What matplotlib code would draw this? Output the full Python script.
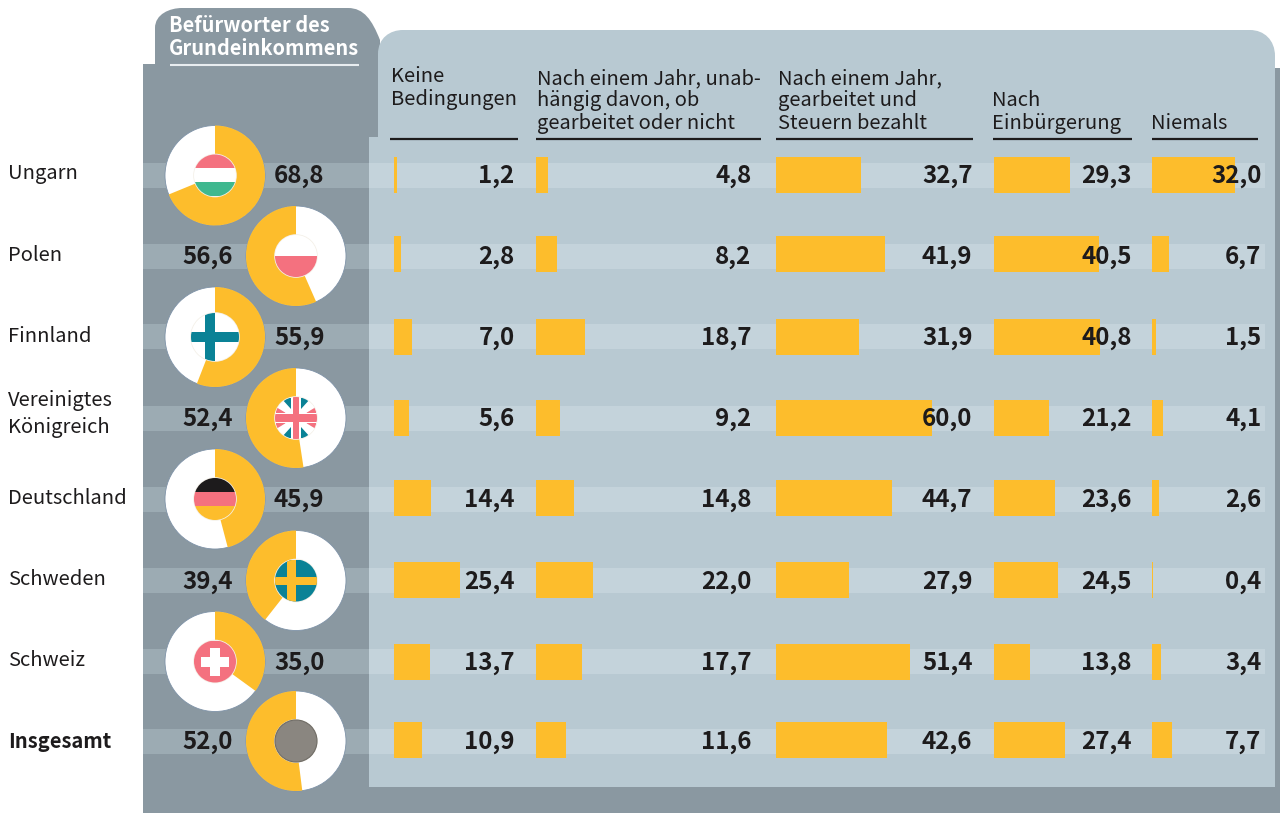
import matplotlib
matplotlib.use('Agg')
import matplotlib.pyplot as plt
from matplotlib.patches import Wedge, Circle, Rectangle, PathPatch, Polygon
from matplotlib.path import Path

countries = ['Ungarn', 'Polen', 'Finnland', 'Vereinigtes\nKönigreich', 'Deutschland', 'Schweden', 'Schweiz', 'Insgesamt']
befuerworter = [68.8, 56.6, 55.9, 52.4, 45.9, 39.4, 35.0, 52.0]
keine = [1.2, 2.8, 7.0, 5.6, 14.4, 25.4, 13.7, 10.9]
nach_jahr = [4.8, 8.2, 18.7, 9.2, 14.8, 22.0, 17.7, 11.6]
steuern = [32.7, 41.9, 31.9, 60.0, 44.7, 27.9, 51.4, 42.6]
einbuergerung = [29.3, 40.5, 40.8, 21.2, 23.6, 24.5, 13.8, 27.4]
niemals = [32.0, 6.7, 1.5, 4.1, 2.6, 0.4, 3.4, 7.7]
columns = [keine, nach_jahr, steuern, einbuergerung, niemals]
headers = ['Keine\nBedingungen', 'Nach einem Jahr, unab-\nhängig davon, ob\ngearbeitet oder nicht',
           'Nach einem Jahr,\ngearbeitet und\nSteuern bezahlt', 'Nach\nEinbürgerung', 'Niemals']
title = 'Befürworter des\nGrundeinkommens'

DARK = '#8a98a1'; LIGHT = '#b8c9d2'; BAND_D = '#9cabb3'; BAND_L = '#c4d3db'
YEL = '#fdbd2c'; PINK = '#f4717f'; GREEN = '#3fb88f'; TEAL = '#0a8296'; INK = '#1d1b1c'; GREY = '#8a8680'

plt.rcParams['font.family'] = ['Noto Sans CJK SC', 'DejaVu Sans']
fig = plt.figure(figsize=(12.8, 8.13), dpi=100)
ax = fig.add_axes([0, 0, 1, 1])
ax.set_xlim(0, 1280); ax.set_ylim(813, 0); ax.axis('off')

# panels
ax.add_patch(Rectangle((143, 64), 237, 749, fc=DARK, ec='none', zorder=1))
ax.add_patch(Rectangle((380, 68), 900, 745, fc=DARK, ec='none', zorder=1))
tab = Path([(155, 66), (155, 28), (155, 14), (170, 8), (182, 8), (348, 8), (364, 8), (372, 20), (380, 40), (380, 66), (155, 66)],
           [Path.MOVETO, Path.LINETO, Path.CURVE4, Path.CURVE4, Path.CURVE4, Path.LINETO, Path.CURVE4, Path.CURVE4, Path.CURVE4, Path.LINETO, Path.CLOSEPOLY])
ax.add_patch(PathPatch(tab, fc=DARK, ec='none', zorder=1.2))
top = Path([(378, 140), (378, 54), (378, 38), (390, 30), (403, 30), (1250, 30), (1264, 30), (1275, 40), (1275, 56), (1275, 140), (378, 140)],
           [Path.MOVETO, Path.LINETO, Path.CURVE4, Path.CURVE4, Path.CURVE4, Path.LINETO, Path.CURVE4, Path.CURVE4, Path.CURVE4, Path.LINETO, Path.CLOSEPOLY])
ax.add_patch(PathPatch(top, fc=LIGHT, ec='none', zorder=1.3))
ax.add_patch(Rectangle((369, 137), 906, 650, fc=LIGHT, ec='none', zorder=1.3))

# layout
row_y = [175.5, 256, 337, 418, 499, 580.5, 661.5, 741]
bar_y = [175, 254, 337.5, 418, 498, 580, 662, 740]
lab_y = [174, 255, 336, None, 498, 579, 660, 741]
col_x0 = [394, 536, 776, 994, 1152]
col_val_x = [514.5, 751.5, 972.5, 1131.5, 1261.5]
rule_x = [(390, 518), (536, 761), (776, 973), (993, 1132), (1152, 1258)]
head_x = [391, 537, 778, 992, 1151]
head_bottom = [110, 134, 134, 134, 134]
SCALE = 2.6
VAL_FS = 17.4

# bands
for y in row_y:
    ax.add_patch(Rectangle((143, y - 12.5), 226, 25, fc=BAND_D, ec='none', zorder=2))
    ax.add_patch(Rectangle((369, y - 12.5), 896, 25, fc=BAND_L, ec='none', zorder=2))

# title
ax.text(169, 37, title, color='white', fontsize=14.4, fontweight='bold', va='center', ha='left', linespacing=1.15, zorder=6)
ax.plot([170, 359], [65, 65], color='#e8edf0', lw=1.5, zorder=6, solid_capstyle='butt')

# headers
for hdr, x, hb, (a, b) in zip(headers, head_x, head_bottom, rule_x):
    ax.text(x, hb, hdr, fontsize=14.5, color=INK, ha='left', va='bottom', linespacing=1.1, zorder=6)
    ax.plot([a, b], [139, 139], color=INK, lw=1.6, zorder=6, solid_capstyle='butt')

# bars and values
for col, x0, vx in zip(columns, col_x0, col_val_x):
    for v, y, ry in zip(col, bar_y, row_y):
        ax.add_patch(Rectangle((x0, y - 18), v * SCALE, 36, fc=YEL, ec='none', zorder=3))
        ax.text(vx, ry + 1, f'{v:.1f}'.replace('.', ','), fontsize=VAL_FS, fontweight='bold', color=INK, ha='right', va='center', zorder=6)

# labels
for i, (c, y) in enumerate(zip(countries, lab_y)):
    if y is None:
        ax.text(8, 414, c, fontsize=14.5, color=INK, ha='left', va='center', linespacing=1.32, zorder=6)
    else:
        ax.text(8, y, c, fontsize=14.5, color=INK, ha='left', va='center', zorder=6,
                fontweight='bold' if i == 7 else 'normal')

def flag(i, cx, cy):
    r = 24 if i == 2 else 21
    clip = Circle((cx, cy), r, transform=ax.transData)
    def rect(x, y, w, h, c):
        p = Rectangle((cx + x, cy + y), w, h, fc=c, ec='none', zorder=5)
        ax.add_patch(p); p.set_clip_path(clip)
    def poly(pts, c):
        p = Polygon([(cx + a, cy + b) for a, b in pts], fc=c, ec='none', zorder=5)
        ax.add_patch(p); p.set_clip_path(clip)
    ax.add_patch(Circle((cx, cy), r + 0.8, fc='#f4f0e8', ec='none', zorder=4.9))
    if i == 0:
        rect(-r, -r, 2*r, 14, PINK); rect(-r, -7, 2*r, 14, 'white'); rect(-r, 7, 2*r, 14, GREEN)
    elif i == 1:
        rect(-r, -r, 2*r, r, 'white'); rect(-r, 0, 2*r, r, PINK)
    elif i == 2:
        ax.add_patch(Circle((cx, cy), r, fc='white', ec='none', zorder=5))
        rect(-r, -5, 2*r, 10, TEAL); rect(-10, -r, 10, 2*r, TEAL)
    elif i == 3:
        ax.add_patch(Circle((cx, cy), r, fc='white', ec='none', zorder=5))
        for sx in (-1, 1):
            for sy in (-1, 1):
                poly([(sx*5, sy*20), (sx*5, sy*9), (sx*15, sy*20)], TEAL)
                poly([(sx*20, sy*5), (sx*10, sy*5), (sx*20, sy*11)], PINK)
                poly([(sx*6, sy*6), (sx*18, sy*16), (sx*20, sy*13), (sx*10, sy*5)], 'white')
        rect(-r, -4, 2*r, 8, PINK); rect(-3, -r, 6, 2*r, PINK)
    elif i == 4:
        rect(-r, -r, 2*r, 14, INK); rect(-r, -7, 2*r, 14, PINK); rect(-r, 7, 2*r, 14, YEL)
    elif i == 5:
        rect(-r, -r, 2*r, 2*r, TEAL); rect(-r, -4, 2*r, 8, YEL); rect(-9, -r, 9, 2*r, YEL)
    elif i == 6:
        rect(-r, -r, 2*r, 2*r, PINK); rect(-14, -5, 28, 10, 'white'); rect(-5, -14, 10, 28, 'white')
    else:
        ax.add_patch(Circle((cx, cy), r, fc=GREY, ec='#6f6c66', lw=0.8, zorder=5))

# donuts: odd rows grow clockwise from the top, even rows counter-clockwise
for i, (v, y) in enumerate(zip(befuerworter, row_y)):
    left = i % 2 == 0
    cx = 215 if left else 296
    ax.add_patch(Circle((cx, y), 50, fc='white', ec='#7f93a8', lw=0.6, zorder=4))
    if left:
        w = Wedge((cx, y), 50, -90, -90 + 3.6 * v, fc=YEL, ec='none', zorder=4.1)
    else:
        w = Wedge((cx, y), 50, -90 - 3.6 * v, -90, fc=YEL, ec='none', zorder=4.1)
    ax.add_patch(w)
    flag(i, cx, y)
    s = f'{v:.1f}'.replace('.', ',')
    ax.text(324.5 if left else 232.5, y + 1, s, fontsize=VAL_FS, fontweight='bold', color=INK, ha='right', va='center', zorder=6)

fig.savefig('out.png', dpi=100)
